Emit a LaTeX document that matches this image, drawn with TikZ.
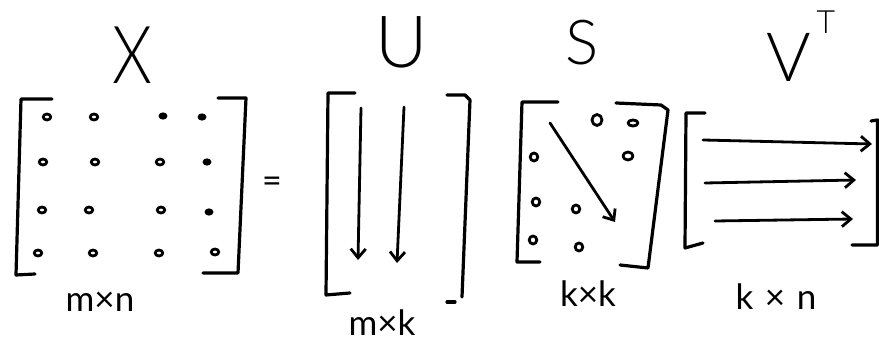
\documentclass[tikz,border=0pt]{standalone}
\usepackage{fontspec}
\setmainfont{Lato}
\IfFontExistsTF{Lato Light}{\newfontfamily\ttlfont{Lato Light}}{\newfontfamily\ttlfont{Lato}}
\usetikzlibrary{arrows.meta}
\begin{document}
\begin{tikzpicture}[x=1pt,y=-1pt,line cap=round,line join=round,
  ink/.style={line width=3.2pt},
  dotmark/.style={line width=2.8pt},
  vec/.style={line width=2.8pt,-{Straight Barb[length=9pt,width=15pt,line width=2.8pt]}},
  ttl/.style={inner sep=0pt},
  dims/.style={inner sep=0pt,anchor=base,font=\fontsize{35}{35}\selectfont}]
\useasboundingbox (0,0) rectangle (879,344);
% titles
\node[ttl,font=\ttlfont\fontsize{80}{80}\selectfont,xscale=0.8] (tX) at (132,55) {X};
\node[ttl,font=\ttlfont\fontsize{72}{72}\selectfont] (tU) at (402,42) {U};
\node[ttl,font=\ttlfont\fontsize{62}{62}\selectfont] (tS) at (582,43) {S};
\node[ttl,font=\ttlfont\fontsize{68}{68}\selectfont] (tV) at (789,57) {V};
\node[ttl,font=\ttlfont\fontsize{32}{32}\selectfont] (tT) at (826,22) {T};
% equals
\node[ttl,font=\fontsize{34}{34}\selectfont] (eq) at (272,185) {=};
% dimensions
\node[dims] (dX) at (100,312) {m×n};
\node[dims] (dU) at (382,336) {m×k};
\node[dims] (dS) at (588,307) {k×k};
\node[dims] (dV) at (776,310) {k\,\,×\,\,n};
% X brackets
\draw[ink] (52,99) -- (21,99) -- (16,275) -- (35,274);
\draw[ink] (218,98) -- (246,98) -- (238,273) -- (203,273);
% X entries
\foreach \p in {(47,117),(94,117),(43,162),(95,162),(160,162),(42,210),(89,210),(161,210),(38,253),(93,253),(159,253),(215,252)}
  \draw[dotmark] \p ellipse [x radius=3.8pt,y radius=3pt];
\foreach \p in {(163,116),(202,117),(207,162),(209,212)}
  \fill \p ellipse [x radius=4.5pt,y radius=3.6pt];
% U brackets
\draw[ink] (355,93) -- (328,93) -- (326,295) -- (350,293);
\draw[ink] (447,95) -- (465,95) -- (470,100) -- (462,297);
\draw[ink] (447,302) -- (455,302);
% U columns
\coordinate (u1s) at (361,108); \coordinate (u1e) at (358,260);
\coordinate (u2s) at (404,107); \coordinate (u2e) at (397,263);
\draw[vec] (u1s) -- (u1e);
\draw[vec] (u2s) -- (u2e);
% S brackets
\draw[ink] (558,102) -- (522,102) -- (517,262) -- (540,262);
\draw[ink] (616,103) -- (661,105) -- (668,110) -- (648,268) -- (620,265);
% S diagonal
\coordinate (sds) at (550,123); \coordinate (sde) at (615,222);
\draw[vec] (sds) -- (sde);
% S entries
\draw[dotmark] (597,120) ellipse [x radius=5pt,y radius=5.5pt];
\draw[dotmark] (633,123) ellipse [x radius=5pt,y radius=3pt];
\draw[dotmark] (628,156) ellipse [x radius=5pt,y radius=4pt];
\foreach \p in {(534,157),(536,202),(576,209),(533,240),(579,247)}
  \draw[dotmark] \p ellipse [x radius=3.8pt,y radius=4pt];
% V brackets
\draw[ink] (705,113) -- (686,113) -- (685,248) -- (703,243);
\draw[ink] (871,121) -- (877.5,120) -- (877.5,245) -- (852,245);
% V rows
\coordinate (v1s) at (703,140); \coordinate (v1e) at (872,144);
\coordinate (v2s) at (705,183); \coordinate (v2e) at (856,180);
\coordinate (v3s) at (715,221); \coordinate (v3e) at (853,219);
\draw[vec] (v1s) -- (v1e);
\draw[vec] (v2s) -- (v2e);
\draw[vec] (v3s) -- (v3e);
\end{tikzpicture}
\end{document}
